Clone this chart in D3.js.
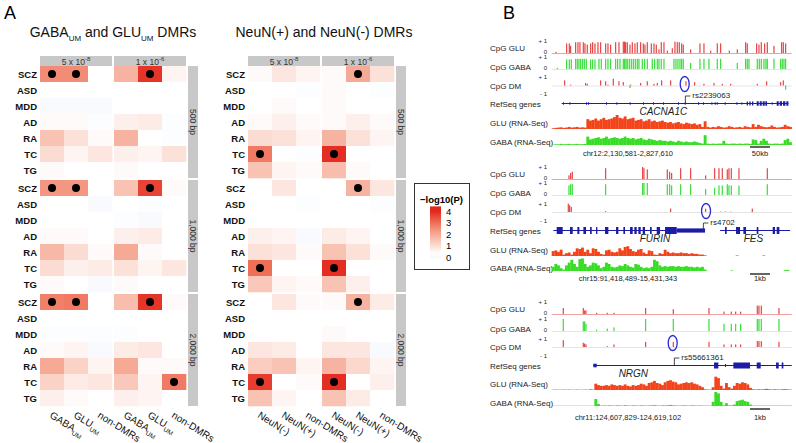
<!DOCTYPE html>
<html><head><meta charset="utf-8">
<script src="https://cdn.jsdelivr.net/npm/d3@7"></script>
<style>body{margin:0;background:#fff}svg{display:block;font-family:"Liberation Sans",Arial,sans-serif}</style>
</head><body><svg id="c" width="796" height="443"></svg>
<script>
// ---------------- DATA: panel A ----------------
const diseases = ["SCZ","ASD","MDD","AD","RA","TC","TG"];
const windows = ["500 bp","1,000 bp","2,000 bp"];
const thresholds = [["5 x 10","-8"],["1 x 10","-6"]];
const groupsLeft = [["GABA","UM"],["GLU","UM"],["non-DMRs",""]];
const groupsMid = [["NeuN(-)",""],["NeuN(+)",""],["non-DMRs",""]];
const legendTicks = [0,1,2,3,4];
// -log10(P): [window][disease] -> 6 values (3 groups x 2 thresholds)
const leftValues = [
 [[2.5,2.5,0.3,1.8,3.8,0.5],[0.3,0.3,0.3,0.3,0.3,0.3],[0.1,0.1,0.1,0.3,0.3,0.3],[0.4,0.4,0.2,0.6,0.7,0.2],[1.5,0.9,0.4,1.8,0.3,0.2],[1.0,0.5,0.8,0.6,0.5,0.9],[0.4,0.3,0.3,0.4,0.3,0.3]],
 [[2.3,2.3,0.3,1.5,3.6,0.4],[0.3,0.3,0.1,0.3,0.2,0.3],[0.3,0.3,0.3,0.2,0.1,0.3],[0.4,0.4,0.3,0.6,0.7,0.3],[1.7,1.0,0.4,2.0,0.4,0.3],[1.0,0.6,0.7,0.9,0.5,0.8],[0.4,0.3,0.1,0.4,0.3,0.3]],
 [[2.7,2.8,0.3,1.6,3.8,0.4],[0.3,0.3,0.3,0.3,0.3,0.3],[0.2,0.2,0.2,0.2,0.3,0.3],[0.4,0.5,0.1,0.7,0.8,0.3],[2.0,1.2,0.5,2.0,0.4,0.4],[1.2,0.7,0.8,1.4,0.5,2.8],[0.6,0.4,0.3,0.6,0.5,0.3]]
];
const leftSig = [[0,"SCZ",0],[0,"SCZ",1],[0,"SCZ",4],[1,"SCZ",0],[1,"SCZ",1],[1,"SCZ",4],[2,"SCZ",0],[2,"SCZ",1],[2,"SCZ",4],[2,"TC",5]];
const midValues = [
 [[0.4,0.8,0.5,0.4,2.0,0.9],[0.3,0.3,0.2,0.4,0.3,0.2],[0.3,0.4,0.3,0.4,0.3,0.3],[0.4,0.6,0.4,0.4,0.6,0.4],[1.0,0.9,0.5,1.8,0.9,0.5],[2.8,0.3,0.2,3.9,0.3,0.3],[1.5,0.5,0.4,1.6,0.4,0.3]],
 [[0.3,0.8,0.3,0.3,1.8,0.8],[0.3,0.3,0.2,0.3,0.3,0.2],[0.3,0.3,0.3,0.3,0.3,0.3],[0.6,0.5,0.1,0.7,0.5,0.3],[0.9,0.8,0.4,1.5,0.9,0.4],[3.0,0.3,0.3,3.9,0.3,0.3],[1.4,0.5,0.4,1.5,0.6,0.3]],
 [[0.3,0.8,0.4,0.4,1.8,0.7],[0.3,0.3,0.3,0.3,0.3,0.3],[0.3,0.3,0.3,0.4,0.3,0.3],[0.8,0.7,0.3,0.8,0.8,0.1],[1.3,1.5,0.5,1.8,1.1,0.5],[3.7,0.3,0.4,3.9,0.3,0.6],[1.5,0.5,0.3,1.5,0.7,0.3]]
];
const midSig = [[0,"SCZ",4],[0,"TC",0],[0,"TC",3],[1,"SCZ",4],[1,"TC",0],[1,"TC",3],[2,"SCZ",4],[2,"TC",0],[2,"TC",3]];

// ---------------- DATA: panel B (positions in relative browser units 185-905) ----------------
const p1GluCpg = [[196,0.1],[228,0.8],[236,0.8],[240,0.6],[255,0.9],[262,0.9],[268,0.9],[278,0.9],[283,0.8],[290,0.7],[300,0.8],[306,0.9],[313,0.8],[322,0.9],[330,0.9],[345,0.8],[352,0.8],[360,0.7],[375,0.9],[385,0.9],[398,0.95],[402,0.95],[405,0.9],[410,0.9],[418,0.7],[425,0.9],[433,0.8],[440,0.9],[450,0.9],[458,0.8],[463,0.7],[470,0.9],[482,0.8],[490,0.8],[497,0.7],[505,0.3],[512,0.9],[520,0.9],[530,0.2],[545,0.4],[553,0.95],[560,0.9],[566,0.9],[573,0.8],[578,0.7],[600,0.3],[628,0.8],[640,0.8],[660,0.2],[680,0.8],[690,0.8],[716,0.2],[740,0.3],[765,0.9],[770,0.8],[798,0.8],[805,0.7],[812,0.9],[822,0.8],[830,0.9],[850,0.6],[873,0.9],[878,0.9],[885,0.8]];
const p1GabaCpg = [[200,0.1],[228,0.8],[236,0.8],[242,0.8],[255,0.85],[260,0.85],[265,0.85],[270,0.85],[276,0.85],[281,0.85],[287,0.85],[300,0.8],[306,0.8],[313,0.8],[325,0.85],[332,0.85],[345,0.85],[352,0.85],[360,0.85],[375,0.85],[381,0.85],[388,0.85],[398,0.85],[402,0.85],[406,0.85],[410,0.85],[416,0.85],[422,0.85],[428,0.85],[434,0.85],[440,0.85],[445,0.85],[455,0.85],[462,0.85],[470,0.85],[485,0.85],[492,0.85],[500,0.85],[505,0.85],[512,0.85],[520,0.85],[550,0.85],[556,0.85],[562,0.85],[568,0.85],[573,0.85],[578,0.85],[600,0.5],[628,0.85],[640,0.85],[655,0.85],[680,0.85],[690,0.85],[740,0.5],[765,0.85],[770,0.85],[775,0.85],[800,0.85],[806,0.85],[812,0.85],[820,0.85],[826,0.85],[830,0.85],[850,0.85],[870,0.85],[875,0.85],[880,0.85],[885,0.85]];
const p1DmCpg = [[222,0.6],[240,0.1],[285,0.3],[290,0.2],[330,0.6],[345,0.5],[352,0.1],[368,0.8],[385,0.5],[398,0.4],[418,-0.3],[420,0.1],[450,0.3],[470,0.5],[490,0.2],[500,0.3],[513,0.6],[540,0.6],[586,0.5],[612,0.4],[640,0.2],[670,0.3],[695,0.2],[720,0.2],[800,0.2],[828,0.5],[870,0.4],[878,0.6],[885,-0.5]];
const p1Gene = [[215,895]];
const p1Exons = [[219,222,0.5],[238,241,0.5],[288,291,0.5],[294,297,0.5],[348,351,0.5],[379,382,0.5],[419,422,0.5],[459,462,0.5],[489,492,0.5],[519,522,0.5],[564,567,0.5],[584,587,0.5],[624,627,0.5],[639,642,0.5],[664,667,0.5],[674,677,0.5],[680,683,0.5],[704,707,0.5],[739,742,0.5],[754,757,0.5],[770,774,0.8],[778,782,0.8],[786,790,0.8],[800,806,0.9],[809,815,0.9],[818,824,0.9],[826,831,0.9],[845,848,0.5],[860,866,0.9],[869,876,0.9],[879,886,0.9],[889,895,0.9]];
const p1GluRna = [0.05,0.08,0.1,0.12,0.08,0.1,0.15,0.1,0.12,0.15,0.1,0.12,0.1,
 0.7,0.6,0.65,0.75,0.6,0.7,0.8,0.65,0.7,0.75,0.85,1.0,0.8,0.75,0.9,0.7,0.75,0.8,0.6,0.65,0.7,0.55,0.6,0.7,0.55,0.6,0.5,0.55,0.6,
 0.5,0.45,0.5,0.4,0.45,0.5,0.4,0.35,0.45,0.4,0.35,0.4,0.3,0.35,
 0.15,0.55,0.15,0.1,0.15,0.12,0.2,0.15,0.1,0.12,0.2,0.15,0.1,0.12,0.15,0.1,0.2,0.15,0.12,0.35,0.15,0.3,0.2,0.15,0.12,0.15,0.25,0.15,0.1,0.12,0.15,0.3,0.2,0.15];
const p1GabaRna = [0.03,0.05,0.05,0.08,0.05,0.06,0.08,0.05,0.06,0.08,0.05,0.06,0.08,
 0.6,0.4,0.45,0.5,0.55,0.45,0.5,0.6,0.45,0.5,0.55,0.5,0.45,0.5,0.6,0.5,0.45,0.5,0.4,0.45,0.5,0.4,0.35,0.45,0.4,0.35,0.3,0.35,0.3,
 0.3,0.25,0.3,0.25,0.2,0.3,0.25,0.2,0.25,0.2,0.2,0.25,0.2,0.15,
 0.1,0.7,0.1,0.08,0.1,0.08,0.1,0.1,0.3,0.1,0.08,0.1,0.1,0.08,0.1,0.08,0.1,0.1,0.08,0.4,0.35,0.1,0.3,0.45,0.3,0.1,0.08,0.1,0.1,0.08,0.1,0.35,0.45,0.2];

const p2GluCpg = [[235,0.3],[240,0.5],[245,0.6],[345,0.9],[456,1.0],[460,0.9],[470,0.8],[530,0.8],[537,0.6],[543,0.5],[570,0.9],[600,0.9],[645,0.3],[672,0.9],[685,0.9],[695,0.9],[710,0.8],[715,0.9],[722,0.9],[745,0.9],[830,0.9]];
const p2GabaCpg = [[235,0.8],[240,0.9],[245,0.9],[345,0.9],[456,1.0],[460,1.0],[470,1.0],[530,0.9],[537,0.9],[543,0.8],[570,0.9],[600,0.9],[645,0.5],[672,0.6],[685,0.8],[695,0.8],[710,0.9],[715,0.8],[722,0.8],[745,0.8],[830,0.9]];
const p2DmCpg = [[233,1.0],[237,0.8],[242,0.6],[345,0.1],[540,0.4],[645,0.4],[690,0.05],[705,0.05],[720,0.05],[785,0.4]];
const p2Gene = [[190,645],[690,900]];
const p2Exons = [[200,218,1],[240,248,1],[262,268,1],[280,288,1],[300,305,1],[318,322,1],[345,355,1],[378,385,1],[400,405,1],[420,428,1],[433,440,1],[445,452,1],[458,465,1],[480,485,1],[500,510,1],[525,560,1],[560,645,0.6],[705,710,1],[738,750,1],[760,768,1],[800,805,1],[848,855,1],[860,868,1]];
const p2GluRna = [0.35,0.4,0.3,0.45,0.1,0.2,0.25,0.1,0.3,0.55,0.5,0.6,0.3,0.45,0.2,0.55,0.5,0.3,0.15,0.1,0.4,0.45,0.3,0.25,0.3,0.55,0.4,0.65,0.7,0.5,0.35,0.3,0.45,0.5,0.25,0.15,0.4,0.35,0.1,0.08,0.2,0.15,0.45,0.3,0.2,0.25,0.2,0.2,0.25,0.2,0.2,0.15,0.2,0.15,0.15,0.1,0.1,0.05,
 0,0,0,0,0,0,0,0,0,0,0,0.04,0,0,0,0,0,0,0,0,0,0.04,0,0,0,0,0,0,0,0,0,0];
const p2GabaRna = [0.3,0.5,0.4,0.2,0.1,0.4,0.6,0.8,0.5,0.3,0.85,0.9,0.5,0.3,0.4,0.6,0.55,0.4,0.2,0.3,0.6,0.5,0.3,0.25,0.3,0.4,0.35,0.5,0.4,0.3,0.25,0.5,0.45,0.3,0.2,0.25,0.2,0.3,0.8,0.7,0.4,0.3,0.35,0.3,0.35,0.35,0.3,0.35,0.3,0.3,0.35,0.3,0.3,0.25,0.3,0.25,0.3,0.1,
 0,0,0,0,0,0,0,0,0,0.04,0,0,0,0,0,0,0,0,0,0,0,0,0,0,0,0,0,0,0,0.06,0.08,0];

const p3GluCpg = [[218,0.5],[278,0.5],[282,0.3],[286,0.3],[318,0.1],[350,0.1],[370,0.1],[465,0.5],[548,0.4],[655,0.5],[700,0.2],[722,0.2],[735,0.2],[750,0.2],[800,0.7],[805,0.7],[812,0.7],[865,0.5]];
const p3GabaCpg = [[218,1.0],[278,0.8],[282,0.8],[286,0.6],[318,0.1],[350,0.2],[370,0.3],[465,1.0],[548,1.0],[655,1.0],[700,0.6],[722,0.6],[735,0.6],[750,0.6],[800,1.0],[805,1.0],[812,1.0],[865,1.0]];
const p3DmCpg = [[218,0.8],[278,0.5],[282,0.4],[286,0.3],[350,0.1],[370,0.3],[465,0.6],[548,0.6],[655,0.6],[700,0.3],[722,0.3],[735,0.3],[750,0.3],[800,0.7],[805,0.7],[812,0.7],[865,0.6]];
const p3Gene = [[310,905]];
const p3Exons = [[310,320,0.6],[672,685,1],[705,708,0.5],[730,780,1],[800,812,1],[858,866,1],[875,880,1]];
const p3GluRna = [0.02,0.03,0.02,0.02,0.03,0.02,0.03,0.02,0.02,0.03,0.02,0.02,0.03,0.02,0.05,0.03,
 0.45,0.35,0.3,0.3,0.35,0.3,0.4,0.35,0.3,0.35,0.3,0.4,0.3,0.25,0.35,0.3,0.35,0.45,0.4,0.3,
 0.5,0.55,0.65,0.5,0.45,0.35,0.55,0.65,0.7,0.6,0.55,0.4,0.45,0.5,0.55,0.5,0.55,0.45,0.4,0.3,0.2,0.05,0.03,0.03,
 0.2,0.95,0.85,0.3,0.1,0.5,0.2,0.1,0.3,0.5,0.45,0.55,0.5,0.4,0.15,0.05,
 0.03,0.05,0.04,0.05,0.08,0.05,0.03,0.05,0.04,0.03,0.05,0.06,0.04,0.03];
const p3GabaRna = [0.02,0.02,0.02,0.02,0.02,0.02,0.02,0.02,0.02,0.02,0.02,0.02,0.02,0.02,0.02,0.02,
 0.5,0.15,0.03,0.04,0.03,0.05,0.04,0.03,0.05,0.04,0.03,0.06,0.04,0.03,0.05,0.04,0.03,0.05,0.04,0.03,
 0.04,0.05,0.06,0.04,0.03,0.05,0.04,0.06,0.08,0.05,0.04,0.03,0.04,0.05,0.04,0.03,0.05,0.04,0.03,0.04,0.03,0.03,0.03,0.03,
 0.3,1.0,0.9,0.3,0.05,0.2,0.05,0.05,0.1,0.35,0.4,0.45,0.35,0.3,0.1,0.03,
 0.03,0.03,0.03,0.03,0.03,0.03,0.03,0.03,0.03,0.03,0.03,0.03,0.03,0.03];

const panelTexts = [
 {chr:"chr12:2,130,581-2,827,610", scale:"50kb", gene:[["CACNA1C",520]], rs:"rs2239063", rsPos:586},
 {chr:"chr15:91,418,489-15,431,343", scale:"1kb", gene:[["FURIN",495],["FES",790]], rs:"rs4702", rsPos:640},
 {chr:"chr11:124,607,829-124,619,102", scale:"1kb", gene:[["NRGN",430]], rs:"rs55661361", rsPos:553}
];

// ---------------- DRAW ----------------
const svg = d3.select("#c");
const color = d3.scaleLinear().domain([0,0.3,1,2,3,4]).range(["#f5f8fc","#ffffff","#fbdcd2","#f6a995","#ef6e56","#e3261d"]).clamp(true);

svg.append("text").attr("x",4).attr("y",19).attr("font-size",18).text("A");
svg.append("text").attr("x",503).attr("y",19).attr("font-size",18).text("B");

function heatmap(x0, values, sig, groups, titleParts, titleX, rowLabelX) {
  const g = svg.append("g");
  const facetX = d3.scaleBand().domain([0,1]).range([x0, x0+146]).paddingInner(2/74);
  const colX = d3.scaleBand().domain([0,1,2]).range([0, facetX.bandwidth()]);
  const blockY = d3.scaleBand().domain([0,1,2]).range([66,406]).paddingInner(2/114);
  const rowY = d3.scaleBand().domain(diseases).range([0, blockY.bandwidth()]);
  const cx = i => facetX(Math.floor(i/3)) + colX(i%3);

  const t = g.append("text").attr("x",titleX).attr("y",37).attr("font-size",14).attr("text-anchor","middle").attr("fill","#111");
  titleParts.forEach(p => {
    t.append("tspan").text(p[0]).attr("font-size",p[1]||14).attr("dy", p[2]||0);
  });

  windows.forEach((w,wi) => {
    const by = blockY(wi);
    values[wi].forEach((row,ri) => {
      row.forEach((v,ci) => {
        g.append("rect").attr("x",cx(ci)).attr("y",by+rowY(diseases[ri]))
          .attr("width",colX.bandwidth()+0.3).attr("height",rowY.bandwidth()+0.3).attr("fill",color(v));
      });
      g.append("text").attr("x",rowLabelX).attr("y",by+rowY(diseases[ri])+rowY.bandwidth()/2+3.5)
        .attr("text-anchor","end").attr("font-size",9.5).attr("font-weight","bold").attr("fill","#111").text(diseases[ri]);
    });
    const sx = x0+148;
    g.append("rect").attr("x",sx).attr("y",by).attr("width",10).attr("height",blockY.bandwidth()).attr("fill","#c8c8c8");
    g.append("text").attr("transform",`translate(${sx+2.3},${by+blockY.bandwidth()/2}) rotate(90)`)
      .attr("text-anchor","middle").attr("font-size",8.5).attr("fill","#333").text(w);
  });
  sig.forEach(s => {
    g.append("circle").attr("cx",cx(s[2])+colX.bandwidth()/2).attr("cy",blockY(s[0])+rowY(s[1])+rowY.bandwidth()/2)
      .attr("r",4).attr("fill","#000");
  });
  thresholds.forEach((th,fi) => {
    g.append("rect").attr("x",facetX(fi)).attr("y",56).attr("width",facetX.bandwidth()).attr("height",10).attr("fill","#c8c8c8");
    const tt = g.append("text").attr("x",facetX(fi)+facetX.bandwidth()/2).attr("y",64.5).attr("text-anchor","middle").attr("font-size",8.5).attr("fill","#333");
    tt.append("tspan").text(th[0]);
    tt.append("tspan").text(th[1]).attr("font-size",6).attr("dy",-3.5);
  });
  [0,1].forEach(fi => groups.forEach((gr,gi) => {
    const x = facetX(fi)+colX(gi)+colX.bandwidth()/2 - 3;
    const tt = g.append("text").attr("transform",`translate(${x},417) rotate(32)`).attr("font-size",10).attr("fill","#111");
    tt.append("tspan").text(gr[0]);
    if (gr[1]) tt.append("tspan").text(gr[1]).attr("font-size",6.5).attr("dy",3);
  }));
}

heatmap(40, leftValues, leftSig, groupsLeft,
  [["GABA"],["UM",8,4],[" and GLU",14,-4],["UM",8,4],[" DMRs",14,-4]], 113, 37);
heatmap(248, midValues, midSig, groupsMid, [["NeuN(+) and NeuN(-) DMRs"]], 324, 245);

// legend
const lg = svg.append("g");
lg.append("rect").attr("x",414.5).attr("y",183.5).attr("width",55).attr("height",86).attr("fill","none").attr("stroke","#333");
lg.append("text").attr("x",420).attr("y",203).attr("font-size",9.5).attr("font-weight","bold").text("\u2212log10(P)");
const ly = d3.scaleLinear().domain([0,4]).range([257,211]);
const grad = svg.append("defs").append("linearGradient").attr("id","lgrad").attr("x1",0).attr("x2",0).attr("y1",1).attr("y2",0);
d3.range(0,11).forEach(i => { const v = -0.1 + i*0.45; grad.append("stop").attr("offset",i/10).attr("stop-color",color(v)); });
lg.append("rect").attr("x",430).attr("y",ly(4.4)).attr("width",11).attr("height",ly(-0.1)-ly(4.4)).attr("fill","url(#lgrad)");
legendTicks.forEach(v => lg.append("text").attr("x",446).attr("y",ly(v)+3.5).attr("font-size",9.5).text(v));

// ---------------- panel B ----------------
const xB = d3.scaleLinear().domain([185,905]).range([551.7,791.7]);
const panels = [
 {glu:p1GluCpg, gaba:p1GabaCpg, dm:p1DmCpg, gene:p1Gene, exons:p1Exons, gluR:p1GluRna, gabaR:p1GabaRna,
  y:{glu:53,gaba:69,dm:85.5,gene:103,gluR:129,gabaR:145,chr:156,bar:147}, ell:[584,84], exH:5},
 {glu:p2GluCpg, gaba:p2GabaCpg, dm:p2DmCpg, gene:p2Gene, exons:p2Exons, gluR:p2GluRna, gabaR:p2GabaRna,
  y:{glu:179,gaba:195,dm:212,gene:230,gluR:256,gabaR:271,chr:281,bar:274}, ell:[648,211], exH:7},
 {glu:p3GluCpg, gaba:p3GabaCpg, dm:p3DmCpg, gene:p3Gene, exons:p3Exons, gluR:p3GluRna, gabaR:p3GabaRna,
  y:{glu:314,gaba:331,dm:347,gene:365,gluR:390,gabaR:406,chr:420,bar:409}, ell:[548,343], exH:6}
];
const bg = svg.append("g").attr("font-size",8).attr("fill","#222");
const cpgU = 12, dmU = 8.5, rnaU = 14;
const binW = (905-185)/90;
panels.forEach((p,pi) => {
  const Y = p.y, T = panelTexts[pi];
  [["CpG GLU",Y.glu-2],["CpG GABA",Y.gaba+1],["CpG DM",Y.dm+3],["RefSeq genes",Y.gene+4],["GLU (RNA-Seq)",Y.gluR-3],["GABA (RNA-Seq)",Y.gabaR]]
    .forEach(l => bg.append("text").attr("x",490).attr("y",l[1]).text(l[0]));
  const small = (txt,y) => bg.append("text").attr("x",547).attr("y",y+2).attr("text-anchor","end").attr("font-size",6).text(txt);
  small("+ 1",Y.glu-cpgU); small("0",Y.glu-1);
  small("+ 1",Y.gaba-cpgU); small("0",Y.gaba-1);
  small("+ 1",Y.dm-dmU); small("- 1",Y.dm+dmU);
  bg.append("line").attr("x1",xB(185)).attr("x2",xB(905)).attr("y1",Y.glu+0.5).attr("y2",Y.glu+0.5).attr("stroke","#f0a0a0");
  bg.append("line").attr("x1",xB(185)).attr("x2",xB(905)).attr("y1",Y.gaba+0.5).attr("y2",Y.gaba+0.5).attr("stroke","#dfe8df");
  bg.append("line").attr("x1",xB(185)).attr("x2",xB(905)).attr("y1",Y.dm+0.5).attr("y2",Y.dm+0.5).attr("stroke","#e4e4e4");
  p.glu.forEach(d => bg.append("rect").attr("x",xB(d[0])).attr("y",Y.glu-d[1]*cpgU).attr("width",1.2).attr("height",d[1]*cpgU).attr("fill","#e64545"));
  p.gaba.forEach(d => bg.append("rect").attr("x",xB(d[0])).attr("y",Y.gaba-d[1]*cpgU).attr("width",1.2).attr("height",d[1]*cpgU).attr("fill","#3bdc3b"));
  p.dm.forEach(d => bg.append("rect").attr("x",xB(d[0])).attr("y",d[1]>=0?Y.dm-d[1]*dmU:Y.dm).attr("width",1.2).attr("height",Math.abs(d[1])*dmU)
     .attr("fill", d[1]>=0?"#e64545":"#3bdc3b"));
  p.gene.forEach(s => bg.append("line").attr("x1",xB(s[0])).attr("x2",xB(s[1])).attr("y1",Y.gene+0.5).attr("y2",Y.gene+0.5).attr("stroke","#1c1ca8").attr("stroke-width",1));
  p.exons.forEach(e => bg.append("rect").attr("x",xB(e[0])).attr("width",Math.max(1,xB(e[1])-xB(e[0]))).attr("y",Y.gene+0.5-p.exH/2*e[2]).attr("height",p.exH*e[2]).attr("fill","#1c1ca8"));
  T.gene.forEach(gn => bg.append("text").attr("x",xB(gn[1])).attr("y",Y.gene+12).attr("text-anchor","middle").attr("font-size",10).attr("font-style","italic").text(gn[0]));
  const rx = xB(T.rsPos);
  bg.append("path").attr("d",`M${rx},${Y.gene} V${Y.gene-7} H${rx+5}`).attr("fill","none").attr("stroke","#333").attr("stroke-width",0.9);
  bg.append("text").attr("x",rx+7).attr("y",Y.gene-5).attr("font-size",8).text(T.rs);
  bg.append("ellipse").attr("cx",xB(p.ell[0])).attr("cy",p.ell[1]).attr("rx",4.5).attr("ry",7.5).attr("fill","none").attr("stroke","#2b2bd6").attr("stroke-width",1.3);
  p.gluR.forEach((v,i) => bg.append("rect").attr("x",xB(185+i*binW)).attr("width",xB(185+binW)-xB(185)+0.2).attr("y",Y.gluR-v*rnaU).attr("height",v*rnaU).attr("fill","#f2431a"));
  p.gabaR.forEach((v,i) => bg.append("rect").attr("x",xB(185+i*binW)).attr("width",xB(185+binW)-xB(185)+0.2).attr("y",Y.gabaR-v*rnaU).attr("height",v*rnaU).attr("fill","#36dd24"));
  bg.append("text").attr("x",628).attr("y",Y.chr).attr("text-anchor","middle").attr("font-size",7.5).text(T.chr);
  bg.append("line").attr("x1",750).attr("x2",770).attr("y1",Y.bar).attr("y2",Y.bar).attr("stroke","#111").attr("stroke-width",1.3);
  bg.append("text").attr("x",760).attr("y",Y.chr).attr("text-anchor","middle").attr("font-size",7.5).text(T.scale);
});
</script></body></html>
